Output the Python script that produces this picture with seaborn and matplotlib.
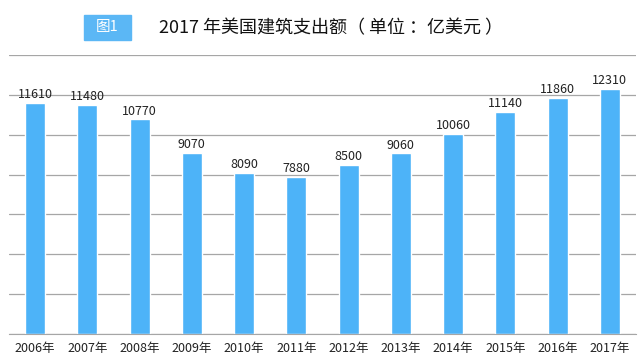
import matplotlib
matplotlib.use("Agg")
import matplotlib.pyplot as plt
import seaborn as sns
import pandas as pd
from matplotlib.patches import Rectangle

years = ["2006年", "2007年", "2008年", "2009年", "2010年", "2011年",
         "2012年", "2013年", "2014年", "2015年", "2016年", "2017年"]
spending = [11610, 11480, 10770, 9070, 8090, 7880, 8500, 9060, 10060, 11140, 11860, 12310]

df = pd.DataFrame({"year": years, "spending": spending})

sns.set_style("white")
plt.rcParams["font.family"] = ["Noto Sans CJK SC", "DejaVu Sans"]

fig = plt.figure(figsize=(6.4, 3.63), dpi=100)
ax = fig.add_axes([9 / 640, 1 - 334 / 363, 627 / 640, 279 / 363])

sns.barplot(data=df, x="year", y="spending", color="#4db3f8", saturation=1,
            width=0.38, ax=ax)

ax.set_ylim(0, 14000)
ax.set_xlim(-0.5, len(years) - 0.5)
ax.set_yticks(range(0, 14001, 2000))
ax.yaxis.grid(True, color="#a6a6a6", linewidth=0.9)
ax.set_axisbelow(True)
ax.tick_params(axis="y", left=False, labelleft=False)
for s in ["left", "right", "top"]:
    ax.spines[s].set_visible(False)
ax.spines["bottom"].set_color("#a6a6a6")

# tick marks between categories, labels at centres
ax.set_xticks([i - 0.5 for i in range(len(years) + 1)], minor=True)
ax.tick_params(axis="x", which="minor", length=4, color="#a6a6a6", width=0.9)
ax.tick_params(axis="x", which="major", length=0, labelsize=9, colors="#222222", pad=6)
ax.set_xlabel("")
ax.set_ylabel("")

for i, v in enumerate(spending):
    ax.text(i, v + 90, str(v), ha="center", va="bottom", fontsize=9, color="#222222")

# title block
fig.patches.append(Rectangle((84 / 640, 1 - 40 / 363), 47 / 640, 25 / 363,
                             transform=fig.transFigure, color="#5bb7f5", zorder=0))
fig.text(107.5 / 640, 1 - 27.5 / 363, "图1", ha="center", va="center",
         fontsize=10.5, color="white")
fig.text(159 / 640, 1 - 28 / 363, "2017 年美国建筑支出额（ 单位 ：亿美元 ）",
         ha="left", va="center", fontsize=13, color="#111111")

fig.savefig("out.png", dpi=100)
